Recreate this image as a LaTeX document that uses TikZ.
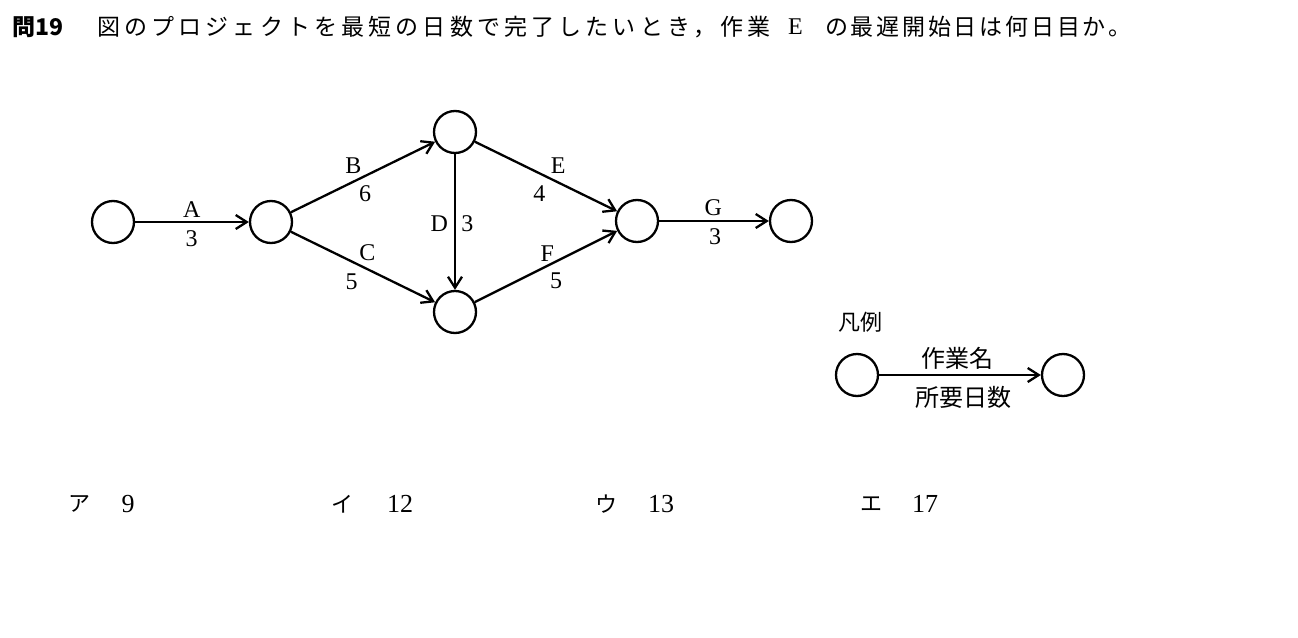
\documentclass[tikz,border=0pt]{standalone}
\usepackage{fontspec}
\setmainfont{Liberation Serif}
\newfontfamily\jp{Noto Sans CJK JP}
\newfontfamily\jpsp[LetterSpace=18]{Noto Sans CJK JP}
\newfontfamily\jpspb[LetterSpace=12]{Noto Sans CJK JP}
\usetikzlibrary{arrows.meta}
\begin{document}
\begin{tikzpicture}[x=1pt,y=-1pt,
  ev/.style={circle,draw,line width=2.3pt,minimum size=42pt,inner sep=0pt},
  act/.style={line width=2.3pt,-{Straight Barb[length=11pt,width=14pt]}},
  lab/.style={inner sep=0pt,font=\fontsize{24}{27}\selectfont},
  ttl/.style={inner sep=0pt,anchor=west,font=\fontsize{23}{26}\selectfont},
  ans/.style={inner sep=0pt,font=\fontsize{22}{26}\selectfont\jp},
  num/.style={inner sep=0pt,font=\fontsize{26}{30}\selectfont},
  leg/.style={inner sep=0pt,font=\fontsize{24}{28}\selectfont\jp}
]
\fill[white] (0,0) rectangle (1298,637);
\useasboundingbox (0,0) rectangle (1298,637);

% title
\node[ttl] (q) at (12,27) {\jp\bfseries 問19};
\node[ttl] (t1) at (97,27) {\jpsp 図のプロジェクトを最短の日数で完了したいとき，作業};
\node[lab] (tE) at (795.5,27) {E};
\node[ttl] (t2) at (825,27) {\jpspb の最遅開始日は何日目か。};

% network
\node[ev] (n1) at (113,222) {};
\node[ev] (n2) at (271,222) {};
\node[ev] (n3) at (455,132) {};
\node[ev] (n4) at (455,312) {};
\node[ev] (n5) at (637,221) {};
\node[ev] (n6) at (791,221) {};

\draw[act] (n1) -- (n2);
\draw[act] (n2) -- (n3);
\draw[act] (n2) -- (n4);
\draw[act] (n3) -- (n4);
\draw[act] (n3) -- (n5);
\draw[act] (n4) -- (n5);
\draw[act] (n5) -- (n6);

\node[lab] (la) at (191.7,209.3) {A};
\node[lab] (da) at (191.7,238.3) {3};
\node[lab] (lb) at (353.3,166) {B};
\node[lab] (db) at (365,194) {6};
\node[lab] (lc) at (367.3,252.7) {C};
\node[lab] (dc) at (351.7,281.7) {5};
\node[lab] (ld) at (439.3,223.3) {D};
\node[lab] (dd) at (467.3,223.3) {3};
\node[lab] (le) at (558.3,166) {E};
\node[lab] (de) at (539.3,194) {4};
\node[lab] (lf) at (547.3,253.3) {F};
\node[lab] (df) at (556,280.7) {5};
\node[lab] (lg) at (713.3,207.3) {G};
\node[lab] (dg) at (715,236.7) {3};

% legend
\node[inner sep=0pt,font=\fontsize{22}{26}\selectfont\jp] (lgt) at (860,322) {凡例};
\node[ev] (l1) at (857,375) {};
\node[ev] (l2) at (1063,375) {};
\draw[act] (l1) -- (l2);
\node[leg] (lname) at (957,358) {作業名};
\node[leg] (ldays) at (963,397) {所要日数};

% answers
\node[ans] (a1) at (79,504) {ア};
\node[num] (v1) at (128,504) {9};
\node[ans] (a2) at (342,504) {イ};
\node[num] (v2) at (400,504) {12};
\node[ans] (a3) at (606,504) {ウ};
\node[num] (v3) at (661,504) {13};
\node[ans] (a4) at (871,504) {エ};
\node[num] (v4) at (925,504) {17};
\end{tikzpicture}
\end{document}
